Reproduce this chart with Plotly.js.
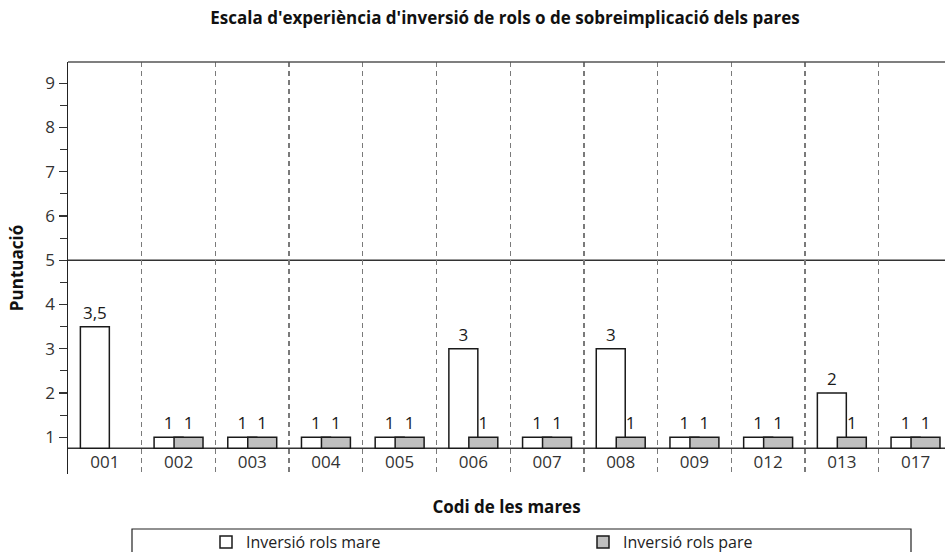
<!DOCTYPE html>
<html>
<head>
<meta charset="utf-8">
<script src="https://cdn.plot.ly/plotly-3.0.1.min.js"></script>
<style>html,body{margin:0;padding:0;background:#fff;}#chart{width:945px;height:552px;}</style>
</head>
<body>
<div id="chart"></div>
<script>
const categories = ["001","002","003","004","005","006","007","008","009","012","013","017"];
const mareValues = [3.5, 1, 1, 1, 1, 3, 1, 3, 1, 1, 2, 1];
const pareValues = [null, 1, 1, 1, 1, 1, 1, 1, 1, 1, 1, 1];
const seriesNames = ["Inversió rols mare", "Inversió rols pare"];
const yTickVals = [1,2,3,4,5,6,7,8,9];
const baseValue = 0.75;

const fmt = v => (v === null ? "" : String(v).replace(".", ","));
const FONT = "Open Sans, Noto Sans, sans-serif";

function barTrace(vals, name, fill, offset) {
  return {
    type: "bar",
    name: name,
    x: categories,
    y: vals.map(v => v === null ? null : v - baseValue),
    base: baseValue,
    width: 0.393,
    offset: offset,
    marker: {color: fill, line: {color: "#1a1a1a", width: 1.5}},
    text: vals.map(fmt),
    textposition: "outside",
    constraintext: "none",
    cliponaxis: false,
    textfont: {family: FONT, size: 17, color: "#1a1a1a"},
    hoverinfo: "skip"
  };
}

const data = [
  barTrace(mareValues, seriesNames[0], "#ffffff", -0.332),
  barTrace(pareValues, seriesNames[1], "#bfbfbf", -0.061)
];

const plotL = 68, plotT = 62, plotB = 474, W = 945, H = 552;
const pw = W - plotL, ph = plotB - plotT;
const px2paperX = p => (p - plotL) / pw;
const px2paperY = p => (plotB - p) / ph;

const layout = {
  width: W, height: H,
  margin: {l: plotL, r: 0, t: plotT, b: H - plotB, pad: 0, autoexpand: false},
  paper_bgcolor: "#ffffff",
  plot_bgcolor: "#ffffff",
  barmode: "overlay",
  showlegend: true,
  font: {family: FONT, size: 16, color: "#222"},
  title: {
    text: "<b>Escala d'experiència d'inversió de rols o de sobreimplicació dels pares</b>",
    font: {family: FONT, size: 17, color: "#111"},
    x: 505 / W, xanchor: "center", xref: "container",
    y: 1 - 18 / H, yanchor: "middle", yref: "container"
  },
  xaxis: {
    type: "category",
    range: [-0.5, 11.4],
    showline: false,
    zeroline: false,
    showgrid: true,
    tickson: "boundaries",
    gridcolor: "#7a7a7a",
    gridwidth: 1.3,
    griddash: "5px,4px",
    ticks: "",
    ticklabelposition: "inside",
    tickfont: {family: FONT, size: 17, color: "#333"},
    title: {text: "<b>Codi de les mares</b>", font: {family: FONT, size: 17, color: "#111"}, standoff: 29},
    automargin: false,
    fixedrange: true
  },
  yaxis: {
    range: [0.17, 9.48],
    tickvals: yTickVals,
    ticktext: yTickVals.map(String),
    ticks: "outside",
    ticklen: 8,
    tickwidth: 1.2,
    tickcolor: "#333",
    minor: {dtick: 0.5, tick0: 0.5, ticks: "outside", ticklen: 7, tickwidth: 1.2, tickcolor: "#333", showgrid: false},
    showline: true,
    linecolor: "#222",
    linewidth: 1.5,
    showgrid: false,
    zeroline: false,
    tickfont: {family: FONT, size: 17, color: "#333"},
    title: {text: "<b>Puntuació</b>", font: {family: FONT, size: 17, color: "#111"}, standoff: 17},
    automargin: false,
    fixedrange: true
  },
  shapes: [
    {type: "line", xref: "paper", yref: "paper", x0: 0, x1: 1, y0: 1, y1: 1, line: {color: "#555", width: 1.5}},
    {type: "line", xref: "paper", yref: "y", x0: 0, x1: 1, y0: 5, y1: 5, line: {color: "#333", width: 1.5}, layer: "below"},
    {type: "line", xref: "paper", yref: "y", x0: 0, x1: 1, y0: baseValue, y1: baseValue, line: {color: "#333", width: 1.5}, layer: "below"},
    {type: "rect", xref: "paper", yref: "paper", x0: px2paperX(132), x1: px2paperX(911), y0: px2paperY(529), y1: px2paperY(570), line: {color: "#222", width: 1.2}, fillcolor: "rgba(0,0,0,0)"}
  ],
  legend: {
    orientation: "h",
    xref: "container", yref: "container",
    x: 206 / W, xanchor: "left",
    y: 1 - 525 / H, yanchor: "top",
    entrywidth: 332,
    entrywidthmode: "pixels",
    font: {family: FONT, size: 16, color: "#222"},
    bgcolor: "rgba(0,0,0,0)",
    borderwidth: 0,
    traceorder: "normal"
  }
};

Plotly.newPlot("chart", data, layout, {displayModeBar: false, staticPlot: true});
</script>
</body>
</html>
